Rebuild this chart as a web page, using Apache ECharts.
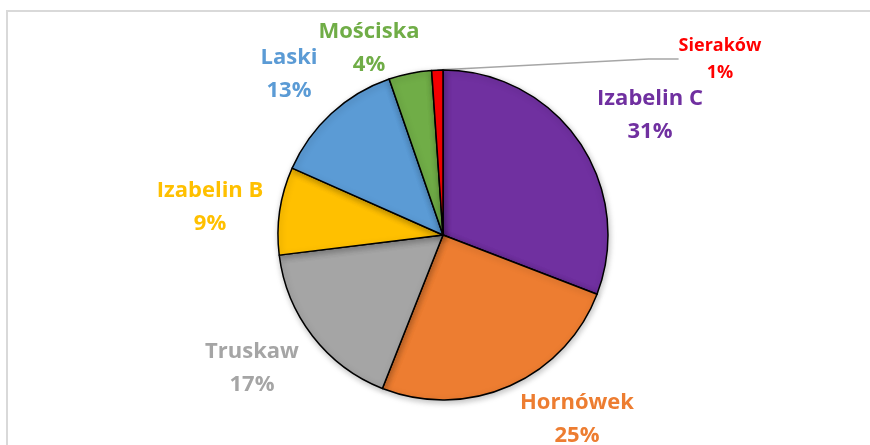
<!DOCTYPE html>
<html>
<head>
<meta charset="utf-8">
<script src="https://cdn.jsdelivr.net/npm/echarts@6/dist/echarts.min.js"></script>
<style>
html,body{margin:0;padding:0;background:#fff;}
#chart{width:870px;height:445px;}
</style>
</head>
<body>
<div id="chart"></div>
<script>
var categories = ['Izabelin C', 'Hornówek', 'Truskaw', 'Izabelin B', 'Laski', 'Mościska', 'Sieraków'];
var values = [30.9, 25.2, 17.1, 8.6, 13.1, 4.2, 1.1];
var colors = ['#7030A0', '#ED7D31', '#A5A5A5', '#FFC000', '#5B9BD5', '#70AD47', '#FF0000'];

// label centres (layout only)
var labelPos = [[650, 115], [577, 419], [252, 368], [210, 207], [289, 74], [369, 48], [720, 59]];

var chart = echarts.init(document.getElementById('chart'), null, {renderer: 'canvas'});
var data = categories.map(function (c, i) {
  var small = i === 6;
  return {
    name: c,
    value: values[i],
    itemStyle: {color: colors[i]},
    label: {
      color: colors[i],
      fontSize: small ? 18 : 22,
      lineHeight: small ? 27 : 33
    },
    labelLine: {show: small}
  };
});

chart.setOption({
  animation: false,
  graphic: [{
    type: 'rect',
    shape: {x: 7, y: 11, width: 900, height: 500},
    style: {fill: 'none', stroke: '#d9d9d9', lineWidth: 2},
    silent: true
  }],
  series: [{
    type: 'pie',
    center: [443, 235],
    radius: [0, 165],
    startAngle: 90,
    clockwise: true,
    percentPrecision: 0,
    avoidLabelOverlap: false,
    data: data,
    itemStyle: {
      borderColor: '#000',
      borderWidth: 1.5,
      shadowBlur: 6,
      shadowColor: 'rgba(0,0,0,0.25)',
      shadowOffsetX: 1,
      shadowOffsetY: 2
    },
    label: {
      show: true,
      position: 'outside',
      formatter: '{b}\n{d}%',
      fontFamily: 'Open Sans',
      fontWeight: 'bold',
      align: 'center'
    },
    labelLine: {
      lineStyle: {color: '#a6a6a6', width: 1.5},
      smooth: false
    },
    labelLayout: function (p) {
      var pos = labelPos[p.dataIndex];
      return {x: pos[0], y: pos[1], align: 'center', verticalAlign: 'middle'};
    }
  }]
});
</script>
</body>
</html>
